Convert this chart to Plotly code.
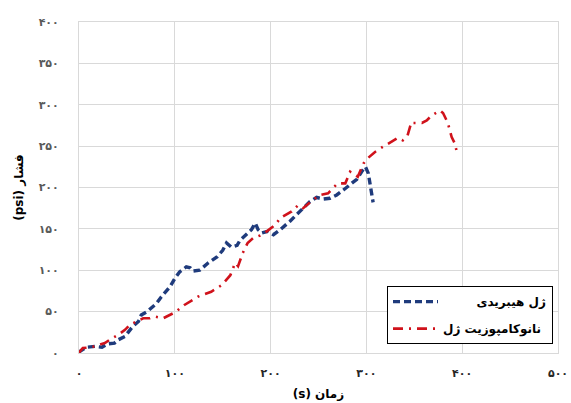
import plotly.graph_objects as go

# Hybrid gel pressure curve: time (s) vs pressure (psi)
hybrid_t = [0, 1, 8, 17, 24, 30, 37, 41, 48, 51, 56, 62, 65, 71, 77, 81, 86, 90, 95, 100,
            105, 112, 116, 119, 126, 135, 144, 150, 154, 159, 165, 168, 175, 180, 184, 187,
            191, 197, 203, 210, 220, 227, 234, 241, 248, 255, 262, 269, 276, 283, 290, 295,
            299, 302, 304, 306, 307]
hybrid_p = [0, 2, 7, 8, 7, 11, 12, 16, 20, 25, 32, 38, 46, 50, 56, 60, 68, 74, 80, 90,
            98, 104, 103, 99, 100, 109, 116, 124, 133, 128, 130, 136, 143, 149, 157, 149,
            145, 147, 143, 149, 159, 167, 175, 183, 188, 186, 187, 191, 197, 203, 210, 219,
            225, 217, 201, 188, 182]

# Nanocomposite gel pressure curve
nano_t = [0, 1, 4, 13, 27, 32, 41, 48, 53, 60, 67, 74, 79, 88, 100, 110, 124, 138, 149,
          158, 163, 166, 171, 176, 182, 189, 196, 205, 210, 222, 229, 234, 244, 252,
          260, 265, 270, 278, 283, 291, 297, 302, 309, 317, 325, 328, 333, 338, 343, 347,
          349, 358, 363, 368, 377, 380, 385, 389, 392, 394]
nano_p = [0, 2, 6, 7, 12, 16, 22, 28, 34, 38, 42, 42, 44, 42, 49, 58, 68, 74, 82,
          94, 109, 105, 121, 133, 139, 142, 147, 155, 163, 171, 179, 175, 185, 191,
          193, 199, 205, 205, 219, 213, 229, 236, 243, 249, 255, 257, 260, 257, 263, 279,
          278, 278, 281, 287, 293, 290, 278, 261, 254, 245]

series_names = ["\u00a0\u00a0\u00a0\u00a0\u00a0\u00a0\u00a0\u00a0ژل هیبریدی", "نانوکامپوزیت ژل"]

x_ticks = [0, 100, 200, 300, 400, 500]
y_ticks = [0, 50, 100, 150, 200, 250, 300, 350, 400]
persian_digits = str.maketrans("0123456789", "۰۱۲۳۴۵۶۷۸۹")
x_labels = [str(v).translate(persian_digits) for v in x_ticks]
y_labels = [str(v).translate(persian_digits) for v in y_ticks]

fig = go.Figure()
fig.add_trace(go.Scatter(
    x=hybrid_t, y=hybrid_p, mode="lines", name=series_names[0], legendgroup="hybrid",
    line=dict(color="#1f3b7c", width=3.4, dash="7px,4px"),
))
fig.add_trace(go.Scatter(
    x=nano_t, y=nano_p, mode="lines", name=series_names[1], legendgroup="nano",
    line=dict(color="#d0121b", width=2.6, dash="10px,6px,2px,6px"),
))

axis_common = dict(
    showgrid=True, gridcolor="#d9d9d9", gridwidth=1,
    showline=True, linecolor="#d9d9d9", linewidth=1, mirror=True,
    zeroline=False, ticks="outside", tickcolor="rgba(0,0,0,0)",
    automargin=False,
)

fig.update_xaxes(
    range=[0, 500], tickvals=x_ticks, ticktext=x_labels, ticklen=10,
    tickfont=dict(family="DejaVu Sans", size=11, color="#262626", weight="bold"),
    title=dict(text="(s) زمان", font=dict(family="DejaVu Sans", size=12, color="#000",
                                          weight="bold"), standoff=10),
    **axis_common,
)
fig.update_yaxes(
    range=[0, 400], tickvals=y_ticks, ticktext=y_labels, ticklen=17,
    tickfont=dict(family="DejaVu Sans", size=11, color="#595959", weight="bold"),
    title=dict(text="(psi) فشار", font=dict(family="DejaVu Sans", size=12, color="#000",
                                            weight="bold"), standoff=12),
    **axis_common,
)

fig.update_layout(
    width=571, height=403,
    margin=dict(l=79, r=13, t=22, b=50),
    plot_bgcolor="white", paper_bgcolor="white",
    legend=dict(
        x=0.643, y=0.202, xanchor="left", yanchor="top",
        bordercolor="#000", borderwidth=1, bgcolor="white",
        font=dict(family="DejaVu Sans", size=12, color="#000", weight="bold"),
        itemwidth=45, tracegroupgap=8, traceorder="grouped",
    ),
)

fig.write_html("out.html")
